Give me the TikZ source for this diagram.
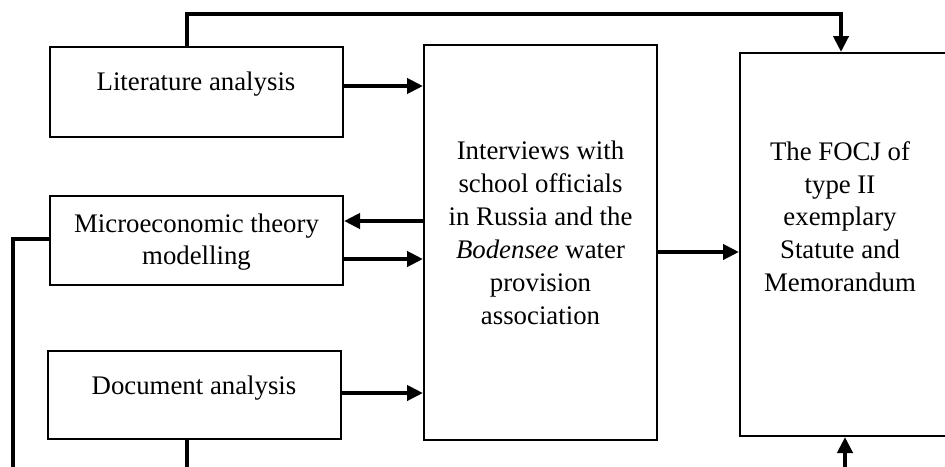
\documentclass[tikz,border=0pt]{standalone}
\usepackage{fontspec}
\setmainfont{Liberation Serif}
\usepackage{tikz}
\usetikzlibrary{arrows.meta}

\begin{document}
\begin{tikzpicture}[
    x=0.5pt, y=-0.5pt,
    font=\fontsize{13.4}{16.4}\selectfont,
    >={Triangle[length=8pt, width=7.5pt]},
    method_box/.style={draw, line width=1pt, minimum width=146.5pt, minimum height=45pt, inner sep=0pt},
    tall_box/.style={draw, line width=1pt, inner sep=0pt},
    box_text/.style={anchor=north, align=center, inner sep=0pt},
    arrow/.style={->, line width=2pt},
    link/.style={line width=2pt}
]
\useasboundingbox (0,0) rectangle (945,466);
\clip (0,0) rectangle (945,466);

% Methods on the left
\node[method_box] (lit) at (196.5,92) {};
\node[box_text] (littext) at (196,72) {Literature analysis};
\node[method_box, minimum height=44.5pt] (micro) at (196.5,240.5) {};
\node[box_text] (microtext) at (196.5,213) {Microeconomic theory\\modelling};
\node[method_box, minimum height=44pt] (doc) at (194.5,395) {};
\node[box_text] (doctext) at (194,375) {Document analysis};

% Interviews in the middle
\node[tall_box, minimum width=116.5pt, minimum height=197.5pt] (interv) at (540.5,242.5) {};
\node[box_text] (intervtext) at (540.5,141)
    {Interviews with\\school officials\\in Russia and the\\\textit{Bodensee} water\\provision\\association};

% Result on the right
\node[tall_box, minimum width=105pt, minimum height=191.5pt] (focj) at (845,244.5) {};
\node[box_text] (focjtext) at (840,141) {The FOCJ of\\type II\\exemplary\\Statute and\\Memorandum};

% Connections into and out of the interviews
\draw[arrow] (lit.east |- 0,86) -- (interv.west |- 0,86);
\draw[arrow] (interv.west |- 0,221) -- (micro.east |- 0,221);
\draw[arrow] (micro.east |- 0,259) -- (interv.west |- 0,259);
\draw[arrow] (doc.east |- 0,393) -- (interv.west |- 0,393);
\draw[arrow] (interv.east |- 0,252) -- (focj.west |- 0,252);

% Loop over the top
\coordinate (topturn) at (841,14);
\draw[arrow] (lit.north -| 187,0) |- (topturn) -- (topturn |- focj.north);

% Lines running out at the bottom
\coordinate (focjin) at (845,472);
\draw[arrow] (focjin) -- (focjin |- focj.south);
\coordinate (docout) at (187,472);
\draw[link] (doc.south -| docout) -- (docout);
\coordinate (microout) at (13,472);
\draw[link] (micro.west |- 0,239) -| (microout);

\end{tikzpicture}
\end{document}
